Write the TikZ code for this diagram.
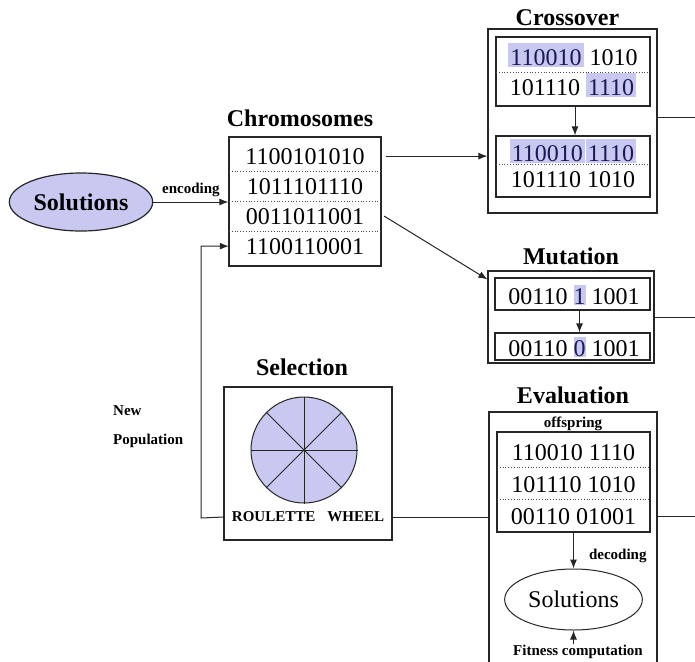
\documentclass[tikz,border=0pt]{standalone}
\usepackage{fontspec}
\setmainfont{Liberation Serif}
\usepackage{xcolor}
\usepackage{tikz}
\usetikzlibrary{positioning}
\usetikzlibrary{arrows.meta,shapes}
\definecolor{lav}{RGB}{200,200,240}
\definecolor{ink}{RGB}{25,25,85}
\newcommand{\hl}[1]{{\setlength{\fboxsep}{0pt}\colorbox{lav}{\rule[-2pt]{0pt}{24pt}\kern2pt\color{ink}#1\kern2pt}}}
\newcommand{\hlbit}[1]{{\setlength{\fboxsep}{0pt}\colorbox{lav}{\rule[-1pt]{0pt}{20pt}\color{ink}#1}}}
\tikzstyle{box}=[rectangle,draw=black!85,line width=1.2pt,inner sep=0pt]
\tikzstyle{bits}=[font=\fontsize{24}{26}\selectfont,inner sep=0pt,anchor=base]
\tikzstyle{title}=[font=\fontsize{24}{26}\selectfont\bfseries,inner sep=0pt]
\tikzstyle{note}=[font=\fontsize{15}{17}\selectfont\bfseries,inner sep=0pt]
\tikzstyle{sep}=[draw=black!70,dotted,line width=0.8pt]
\tikzstyle{edge}=[draw=black!85,line width=1pt,-{Latex[length=9pt,width=7pt]}]
\tikzstyle{link}=[draw=black!85,line width=1pt]

\begin{document}
\begin{tikzpicture}[x=1pt,y=-1pt]

  \useasboundingbox (0,0) rectangle (695,661);
  \clip (0,0) rectangle (695,661);

  % solutions and chromosomes
  \node[ellipse,draw=black!85,line width=1.2pt,fill=lav,minimum width=138pt,minimum height=58pt,
        font=\fontsize{24}{26}\selectfont\bfseries] (sol) at (81,202) {Solutions};

  \node[box,minimum width=152pt,minimum height=129pt] (chrom) at (305,201.5) {};
  \node[title,above=9pt of chrom,xshift=-5pt] (chromt) {Chromosomes};
  \foreach \y/\name/\label in {164/c1/1100101010, 194/c2/1011101110, 224/c3/0011011001, 254/c4/1100110001}
          \node[bits,minimum width=152pt] (\name) at (305,\y) {\label};
  \foreach \y in {171,201,231}
          \path[sep] (229,\y) -- (381,\y);

  \path[edge] (sol.east) -- node[note,above=5pt] {encoding} (sol.east -| chrom.west);

  % crossover
  \node[box,minimum width=169pt,minimum height=184pt] (cross) at (572.5,121) {};
  \node[title,above=2pt of cross,xshift=-5pt] (crosst) {Crossover};
  \node[box,minimum width=154pt,minimum height=69pt] (x1) at (573,71.5) {};
  \node[box,minimum width=154pt,minimum height=61pt] (x2) at (573,166.5) {};
  \foreach \y/\name/\label in {65/x11/{\hl{110010} 1010}, 95/x12/{101110 \hl{1110}},
                               161/x21/{\hl{110010}\kern1pt\hl{1110}}, 187/x22/{101110 1010}}
          \node[bits] (\name) at (573,\y) {\label};
  \path[sep] (496,72) -- (650,72);
  \path[sep] (496,164) -- (650,164);
  \path[edge] ([xshift=2pt]x1.south) -- ([xshift=2pt]x2.north);

  \path[edge] ([xshift=5pt]c1.east) -- (c1.east -| cross.west);
  \coordinate (xout) at (695,117);
  \path[link] (cross.east |- xout) -- (xout);

  % mutation
  \node[box,minimum width=166pt,minimum height=92pt] (mut) at (571,317) {};
  \node[title,above=5pt of mut] (mutt) {Mutation};
  \node[box,minimum width=155pt,minimum height=32pt] (m1) at (572.5,294) {};
  \node[box,minimum width=155pt,minimum height=27pt] (m2) at (572.5,346.5) {};
  \node[bits] (m11) at (574,304) {00110 \hlbit{1} 1001};
  \node[bits] (m21) at (574,356) {00110 \hlbit{0} 1001};
  \path[edge] ([xshift=7pt]m1.south) -- ([xshift=7pt]m2.north);

  \path[edge] ([xshift=3pt]c3.east) -- ([yshift=-9pt]mut.north west);
  \coordinate (mout) at (695,317);
  \path[link] (mut.east) -- (mout);

  % selection
  \node[box,minimum width=168pt,minimum height=153pt] (sel) at (308,463.5) {};
  \node[title,above=10pt of sel,xshift=-6pt] (selt) {Selection};
  \node[circle,draw=black!85,line width=1pt,fill=lav,minimum size=106pt,inner sep=0pt] (wheel) at (304,450) {};
  \foreach \a/\b in {0/180,45/225,90/270,135/315}
          \draw[line width=0.8pt,black!85] (wheel.\a) -- (wheel.\b);
  \node[note] (rw) at (308,517) {ROULETTE\hspace{12pt}WHEEL};

  \node[note,anchor=base west] (newt) at (113,415) {New};
  \node[note,anchor=base west] (popt) at (113,444) {Population};
  \coordinate (np) at (201,518);
  \path[edge] (sel.west |- rw) -- (np) |- (c4.west);

  % evaluation
  \node[box,minimum width=168pt,minimum height=300pt] (eval) at (573,562) {};
  \node[title,above=7pt of eval] (evalt) {Evaluation};
  \node[note,anchor=base] (off) at (573,427) {offspring};
  \node[box,minimum width=153pt,minimum height=100pt] (e) at (573.5,482) {};
  \foreach \y/\name/\label in {460/e1/{110010 1110}, 492/e2/{101110 1010}, 524/e3/{00110 01001}}
          \node[bits] (\name) at (573.5,\y) {\label};
  \path[sep] (497,467) -- (650,467);
  \path[sep] (497,499) -- (650,499);

  \node[ellipse,draw=black!85,line width=1pt,minimum width=137pt,minimum height=61pt,
        font=\fontsize{24}{26}\selectfont] (esol) at (573.5,599.5) {Solutions};
  \path[edge] (e.south) -- node[note,pos=0.65,right=15pt] {decoding} (esol.north);
  \node[note,anchor=base] (fit) at (578,655) {Fitness computation};
  \path[edge] (fit.north -| esol.south) -- (esol.south);

  \path[link] (sel.east |- rw) -- (eval.west |- rw);
  \coordinate (eout) at (695,516);
  \path[link] (eval.east |- eout) -- (eout);

\end{tikzpicture}
\end{document}
